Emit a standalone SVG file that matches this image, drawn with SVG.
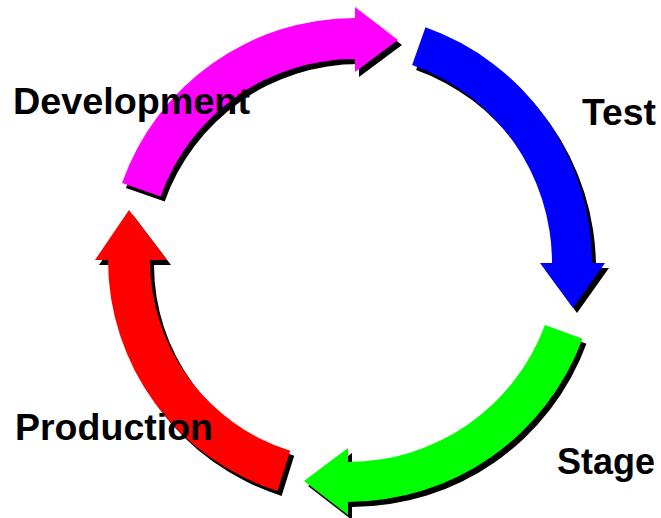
<svg xmlns="http://www.w3.org/2000/svg" width="661" height="518" viewBox="0 0 661 518">
<style>
.lbl{font-family:"Liberation Sans",Arial,sans-serif;font-weight:bold;font-size:37px;fill:#000}
.sh{fill:#000}
</style>
<defs>
<path id="pMag" d="M122,182.9 A247,247 0 0 1 355,18 L355,7 L398,40 L355,72 L355,59 A206,206 0 0 0 160.7,196.6 Z"/>
<path id="pBlue" d="M425.5,27.3 A250,250 0 0 1 592,263 L605,263 L573,308 L540,263 L552,263 A210,210 0 0 0 412.1,65.1 Z"/>
<path id="pGreen" d="M582.5,338.7 A250,250 0 0 1 348,502 L348,515 L304,481 L348,448 L348,462 A210,210 0 0 0 545,325 Z"/>
<path id="pRed" d="M277.6,490.9 A242,242 0 0 1 108,260 L95,260 L129,210 L167,260 L150,260 A200,200 0 0 0 290.2,450.8 Z"/>
</defs>
<rect width="661" height="518" fill="#fff"/>
<g id="connectors">
<g id="arrow-dev-test">
<use href="#pMag" class="sh" transform="translate(4,5)"/>
<use href="#pMag" fill="#ff00ff"/>
</g>
<g id="arrow-test-stage">
<use href="#pBlue" class="sh" transform="translate(4,5)"/>
<use href="#pBlue" fill="#0000ff"/>
</g>
<g id="arrow-stage-prod">
<use href="#pGreen" class="sh" transform="translate(4,5)"/>
<use href="#pGreen" fill="#00ff00"/>
</g>
<g id="arrow-prod-dev">
<use href="#pRed" class="sh" transform="translate(4,5)"/>
<use href="#pRed" fill="#ff0000"/>
</g>
</g>
<g id="node-development"><text class="lbl" x="13" y="114" textLength="237" lengthAdjust="spacingAndGlyphs">Development</text></g>
<g id="node-test"><text class="lbl" x="582" y="125" textLength="74" lengthAdjust="spacingAndGlyphs">Test</text></g>
<g id="node-stage"><text class="lbl" x="557" y="474" textLength="98" lengthAdjust="spacingAndGlyphs">Stage</text></g>
<g id="node-production"><text class="lbl" x="15" y="440" textLength="198" lengthAdjust="spacingAndGlyphs">Production</text></g>
</svg>
